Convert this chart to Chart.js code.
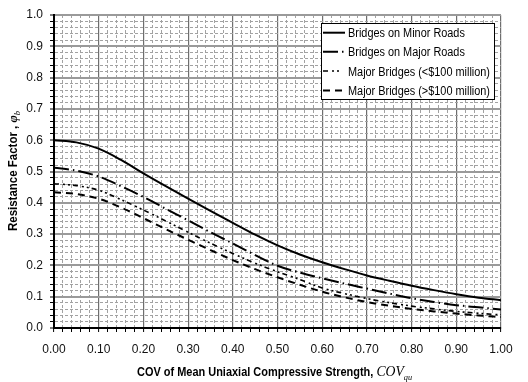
<!DOCTYPE html>
<html><head><meta charset="utf-8">
<script src="https://cdn.jsdelivr.net/npm/chart.js@4.4.1/dist/chart.umd.min.js"></script>
<style>html,body{margin:0;padding:0;background:#fff}#wrap{width:528px;height:382px}</style>
</head><body><div id="wrap"><canvas id="c" width="528" height="382"></canvas></div>
<script>
const covValues    = [0.00,0.05,0.10,0.15,0.20,0.25,0.30,0.35,0.40,0.45,0.50,0.55,0.60,0.65,0.70,0.75,0.80,0.85,0.90,0.95,1.00];
const minorRoads   = [0.600,0.593,0.573,0.537,0.494,0.453,0.413,0.374,0.336,0.298,0.264,0.235,0.210,0.188,0.168,0.151,0.135,0.121,0.108,0.097,0.089];
const majorRoads   = [0.512,0.503,0.484,0.453,0.419,0.381,0.344,0.306,0.270,0.233,0.199,0.177,0.159,0.142,0.126,0.110,0.095,0.083,0.073,0.066,0.059];
const underHundred = [0.461,0.455,0.440,0.410,0.377,0.342,0.306,0.271,0.238,0.207,0.180,0.155,0.128,0.110,0.094,0.081,0.070,0.061,0.053,0.047,0.042];
const overHundred  = [0.434,0.428,0.413,0.385,0.351,0.316,0.282,0.249,0.217,0.188,0.162,0.138,0.116,0.098,0.083,0.071,0.061,0.053,0.046,0.040,0.035];
const seriesNames  = ['Bridges on Minor Roads','Bridges on Major Roads','Major Bridges (<$100 million)','Major Bridges (>$100 million)'];
const xTickLabels  = ['0.00','0.10','0.20','0.30','0.40','0.50','0.60','0.70','0.80','0.90','1.00'];
const yTickLabels  = ['0.0','0.1','0.2','0.3','0.4','0.5','0.6','0.7','0.8','0.9','1.0'];
const minorStep = 0.02;

const isMajor = v => Math.abs(v*10 - Math.round(v*10)) < 1e-6;
const gridTicks = Array.from({length: Math.round(1/minorStep)+1}, (_, i) => ({value: +(i*minorStep).toFixed(4)}));
const pts = arr => covValues.map((x, i) => ({x, y: arr[i]}));

const styles = [
  {dash: [], width: 2},
  {dash: [15,4,1.5,4], width: 2},
  {dash: [5,4,2,3,2,3], width: 1.6},
  {dash: [7,5], width: 2}
];
const allSeries = [minorRoads, majorRoads, underHundred, overHundred];

const FONT = '"Liberation Sans", Arial, sans-serif';
const SERIF = '"Liberation Serif", "Times New Roman", serif';

function drawRuns(ctx, runs, x, y, targetW, align) {
  let total = 0;
  runs.forEach(r => { ctx.font = r.font; r.w = ctx.measureText(r.text).width; total += r.w; });
  const s = targetW ? targetW / total : 1;
  ctx.save();
  ctx.translate(align === 'center' ? x - total*s/2 : x, y);
  ctx.scale(s, 1);
  let cx = 0;
  runs.forEach(r => {
    ctx.font = r.font;
    ctx.fillText(r.text, cx, r.dy || 0);
    cx += r.w;
  });
  ctx.restore();
}

const decor = {
  id: 'decor',
  afterDraw(chart) {
    const ctx = chart.ctx;
    ctx.save();
    ctx.fillStyle = '#000';
    ctx.textBaseline = 'alphabetic';
    ctx.textAlign = 'left';
    drawRuns(ctx, [
      {text: 'COV of Mean Uniaxial Compressive Strength, ', font: 'bold 12px ' + FONT},
      {text: 'COV', font: 'italic 15px ' + SERIF},
      {text: 'qu', font: 'italic 9px ' + SERIF, dy: 4}
    ], 137, 376, 275, 'left');
    ctx.save();
    ctx.translate(17, 171);
    ctx.rotate(-Math.PI/2);
    drawRuns(ctx, [
      {text: 'Resistance Factor , ', font: 'bold 12px ' + FONT},
      {text: 'φ', font: 'bold italic 13px ' + SERIF},
      {text: 'b', font: 'italic 9px ' + SERIF, dy: 3}
    ], 0, 0, 120, 'center');
    ctx.restore();
    const bx = 321.5, by = 23.5, bw = 173, bh = 76;
    ctx.fillStyle = '#fff';
    ctx.fillRect(bx, by, bw, bh);
    ctx.strokeStyle = '#000';
    ctx.lineWidth = 1;
    ctx.strokeRect(bx, by, bw, bh);
    const rows = [32.7, 51.8, 71, 90.5];
    ctx.font = '12px ' + FONT;
    const sc = 142 / ctx.measureText(seriesNames[2]).width;
    seriesNames.forEach((name, i) => {
      const ry = rows[i];
      ctx.save();
      ctx.strokeStyle = '#000';
      ctx.lineWidth = styles[i].width;
      ctx.setLineDash(styles[i].dash);
      ctx.beginPath();
      ctx.moveTo(323, ry);
      ctx.lineTo(i === 2 ? 341 : 345, ry);
      ctx.stroke();
      ctx.restore();
      ctx.save();
      ctx.fillStyle = '#000';
      ctx.font = '12px ' + FONT;
      ctx.translate(348, ry + 4.5);
      ctx.scale(sc, 1);
      ctx.fillText(name, 0, 0);
      ctx.restore();
    });
    ctx.restore();
  }
};

new Chart(document.getElementById('c'), {
  type: 'line',
  data: {
    datasets: allSeries.map((arr, i) => ({
      label: seriesNames[i],
      data: pts(arr),
      borderColor: '#000',
      backgroundColor: '#000',
      borderWidth: styles[i].width,
      borderDash: styles[i].dash,
      pointRadius: 0,
      fill: false,
      cubicInterpolationMode: 'monotone'
    }))
  },
  options: {
    responsive: false,
    animation: false,
    devicePixelRatio: 1,
    layout: {padding: {top: 15, right: 27, left: 0, bottom: 0}},
    plugins: {legend: {display: false}, tooltip: {enabled: false}, title: {display: false}},
    scales: {
      x: {
        type: 'linear', min: 0, max: 1,
        afterBuildTicks: s => { s.ticks = gridTicks.map(t => ({value: t.value})); },
        afterFit: s => { s.height = 54; },
        ticks: {
          autoSkip: false, maxRotation: 0, minRotation: 0, padding: 10, color: '#111',
          font: {family: FONT, size: 12},
          callback: v => isMajor(v) ? xTickLabels[Math.round(v*10)] : ''
        },
        grid: {
          color: c => (c.tick && isMajor(c.tick.value)) ? '#6e6e6e' : '#a2a2a2',
          lineWidth: c => (c.tick && isMajor(c.tick.value)) ? 1.2 : 1,
          tickColor: '#000', tickLength: 4, tickWidth: 1
        },
        border: {display: true, color: '#000', width: 2,
          dash: c => (c.tick && !isMajor(c.tick.value)) ? [3,2] : []}
      },
      y: {
        type: 'linear', min: 0, max: 1,
        afterBuildTicks: s => { s.ticks = gridTicks.map(t => ({value: t.value})); },
        afterFit: s => { s.width = 54; },
        ticks: {
          autoSkip: false, padding: 7, color: '#111',
          font: {family: FONT, size: 12},
          callback: v => isMajor(v) ? yTickLabels[Math.round(v*10)] : ''
        },
        grid: {
          color: c => (c.tick && isMajor(c.tick.value)) ? '#9a9a9a' : '#a2a2a2',
          lineWidth: c => (c.tick && isMajor(c.tick.value)) ? 2 : 1,
          tickColor: '#000', tickLength: 4, tickWidth: 1
        },
        border: {display: true, color: '#000', width: 2,
          dash: c => (c.tick && !isMajor(c.tick.value)) ? [3,2] : []}
      }
    }
  },
  plugins: [decor]
});
</script>
</body></html>
